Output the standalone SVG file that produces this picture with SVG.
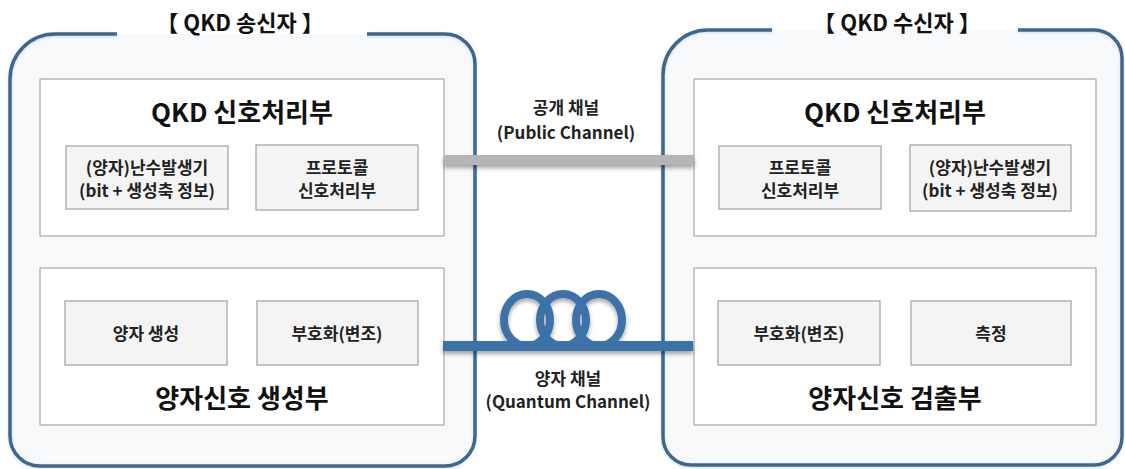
<svg xmlns="http://www.w3.org/2000/svg" width="1125" height="469" viewBox="0 0 1125 469">
<defs>
<style>
.outer-fill{fill:#f8f9fa;stroke:none}
.outer{fill:none;stroke:#41668f;stroke-width:3.5}
.inner{fill:#ffffff;stroke:#a9a9a9;stroke-width:1.2}
.sub{fill:#f4f4f4;stroke:#a0a0a0;stroke-width:1.2}
.t{font-family:"Malgun Gothic","Noto Sans CJK KR","Noto Sans",sans-serif;fill:#111111;text-anchor:middle}
.title{font-size:22px;font-weight:bold}
.main{font-size:26px;font-weight:bold}
.lbl{font-size:17px;font-weight:bold;fill:#222222}
.ch{font-size:17px;font-weight:bold;fill:#222222}
</style>
<filter id="sh" filterUnits="userSpaceOnUse" x="400" y="100" width="340" height="300">
<feDropShadow dx="0" dy="3" stdDeviation="2" flood-color="#000" flood-opacity="0.35"/>
</filter>
<filter id="osh" x="-5%" y="-5%" width="110%" height="110%">
<feDropShadow dx="0" dy="1" stdDeviation="1.5" flood-color="#9fc3e6" flood-opacity="0.5"/>
</filter>
</defs>
<rect width="1125" height="469" fill="#ffffff"/>

<g id="sender">
<path class="outer-fill" d="M55 34 H445 A30 30 0 0 1 475 64 V436 A30 30 0 0 1 445 466 H40 A30 30 0 0 1 10 436 V79 A45 45 0 0 1 55 34 Z"/>
<path class="outer" filter="url(#osh)" d="M367 34 H445 A30 30 0 0 1 475 64 V436 A30 30 0 0 1 445 466 H40 A30 30 0 0 1 10 436 V79 A45 45 0 0 1 55 34 H117"/>
<text class="t title" x="240" y="31">【 QKD 송신자 】</text>
<g id="sender-proc">
<rect class="inner" x="40" y="79" width="404" height="157"/>
<text class="t main" x="242" y="122">QKD 신호처리부</text>
<g id="sender-rng">
<rect class="sub" x="66" y="146" width="162" height="63"/>
<text class="t lbl" x="147" y="174">(양자)난수발생기</text>
<text class="t lbl" x="147" y="197">(bit + 생성축 정보)</text>
</g>
<g id="sender-protocol">
<rect class="sub" x="256" y="145" width="162" height="65"/>
<text class="t lbl" x="337" y="174">프로토콜</text>
<text class="t lbl" x="337" y="197">신호처리부</text>
</g>
</g>
<g id="sender-gen">
<rect class="inner" x="40" y="268" width="404" height="157"/>
<text class="t main" x="242" y="408">양자신호 생성부</text>
<g id="sender-qgen">
<rect class="sub" x="65" y="301" width="162" height="64"/>
<text class="t lbl" x="146" y="340">양자 생성</text>
</g>
<g id="sender-enc">
<rect class="sub" x="257" y="301" width="161" height="64"/>
<text class="t lbl" x="337" y="340">부호화(변조)</text>
</g>
</g>
</g>

<g id="receiver">
<path class="outer-fill" d="M708 30 H1094 A28 28 0 0 1 1122 58 V437 A28 28 0 0 1 1094 465 H691 A28 28 0 0 1 663 437 V75 A45 45 0 0 1 708 30 Z"/>
<path class="outer" filter="url(#osh)" d="M1018 30 H1094 A28 28 0 0 1 1122 58 V437 A28 28 0 0 1 1094 465 H691 A28 28 0 0 1 663 437 V75 A45 45 0 0 1 708 30 H772"/>
<text class="t title" x="897" y="31">【 QKD 수신자 】</text>
<g id="receiver-proc">
<rect class="inner" x="694" y="79" width="402" height="157"/>
<text class="t main" x="895" y="122">QKD 신호처리부</text>
<g id="receiver-protocol">
<rect class="sub" x="719" y="146" width="162" height="63"/>
<text class="t lbl" x="800" y="174">프로토콜</text>
<text class="t lbl" x="800" y="197">신호처리부</text>
</g>
<g id="receiver-rng">
<rect class="sub" x="910" y="145" width="161" height="66"/>
<text class="t lbl" x="990" y="174">(양자)난수발생기</text>
<text class="t lbl" x="990" y="197">(bit + 생성축 정보)</text>
</g>
</g>
<g id="receiver-det">
<rect class="inner" x="694" y="268" width="402" height="157"/>
<text class="t main" x="895" y="408">양자신호 검출부</text>
<g id="receiver-enc">
<rect class="sub" x="718" y="301" width="162" height="64"/>
<text class="t lbl" x="799" y="340">부호화(변조)</text>
</g>
<g id="receiver-meas">
<rect class="sub" x="911" y="301" width="160" height="64"/>
<text class="t lbl" x="991" y="340">측정</text>
</g>
</g>
</g>

<g id="connectors">
<g id="public-channel">
<rect x="444" y="155" width="250" height="10" fill="#b5b5b5" filter="url(#sh)"/>
<text class="t ch" x="566" y="114">공개 채널</text>
<text class="t ch" x="566" y="139">(Public Channel)</text>
</g>
<g id="quantum-channel">
<g filter="url(#sh)" stroke="#3e72a8" fill="none">
<line x1="443" y1="346" x2="693" y2="346" stroke-width="10"/>
<ellipse cx="527" cy="320" rx="23" ry="26" stroke-width="8"/>
<ellipse cx="563" cy="320" rx="23" ry="26" stroke-width="8"/>
<ellipse cx="599" cy="320" rx="23" ry="26" stroke-width="8"/>
</g>
<text class="t ch" x="568" y="385">양자 채널</text>
<text class="t ch" x="568" y="408">(Quantum Channel)</text>
</g>
</g>
</svg>
